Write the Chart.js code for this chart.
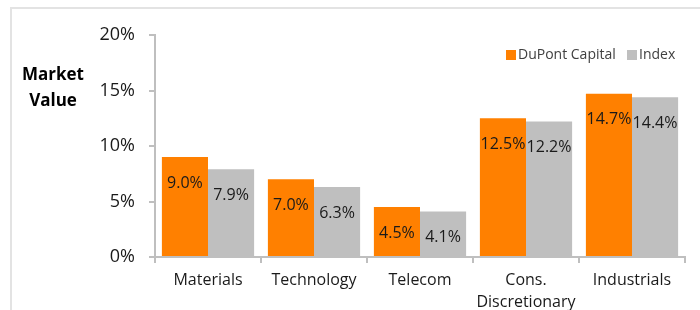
<!DOCTYPE html>
<html>
<head>
<meta charset="utf-8">
<script src="https://cdn.jsdelivr.net/npm/chart.js@4.4.0/dist/chart.umd.min.js"></script>
<style>
  html, body { margin: 0; padding: 0; background: #fff; }
  #wrap { position: relative; width: 700px; height: 310px; overflow: hidden; }
  #frame { position: absolute; left: 10px; top: 7px; width: 800px; height: 400px;
           border-top: 2px solid #e3e3e3; border-left: 2px solid #e3e3e3; }
  canvas { position: absolute; left: 0; top: 0; }
</style>
</head>
<body>
<div id="wrap">
  <div id="frame"></div>
  <canvas id="chart" width="700" height="310"></canvas>
</div>
<script>
const categories = ["Materials", "Technology", "Telecom", ["Cons.", "Discretionary"], "Industrials"];
const dupontValues = [9.0, 7.0, 4.5, 12.5, 14.7];
const indexValues = [7.9, 6.3, 4.1, 12.2, 14.4];
const seriesNames = ["DuPont Capital", "Index"];
const yTicks = [0, 5, 10, 15, 20];

const FONT = "'Open Sans', sans-serif";
const ORANGE = "#ff8000";
const GREY = "#bfbfbf";

// etiquetas dentro das barras
const barLabels = {
  id: "barLabels",
  afterDatasetsDraw(chart) {
    const ctx = chart.ctx;
    ctx.save();
    ctx.font = "16px " + FONT;
    ctx.fillStyle = "#1a1a1a";
    ctx.textAlign = "center";
    ctx.textBaseline = "middle";
    chart.data.datasets.forEach(function (ds, i) {
      chart.getDatasetMeta(i).data.forEach(function (bar, j) {
        ctx.fillText(ds.data[j].toFixed(1) + "%", bar.x, bar.y + 26);
      });
    });
    ctx.restore();
  },
};

// titulo do eixo e legenda
const extras = {
  id: "extras",
  afterDraw(chart) {
    const ctx = chart.ctx;
    ctx.save();
    ctx.fillStyle = "#000";
    ctx.font = "bold 17px " + FONT;
    ctx.textAlign = "center";
    ctx.textBaseline = "middle";
    ctx.fillText("Market", 53, 75);
    ctx.fillText("Value", 53, 101);

    ctx.font = "14px " + FONT;
    ctx.textAlign = "left";
    ctx.fillStyle = ORANGE;
    ctx.fillRect(506, 50, 10, 10);
    ctx.fillStyle = "#404040";
    ctx.fillText(seriesNames[0], 518, 55);
    ctx.fillStyle = GREY;
    ctx.fillRect(627, 50, 10, 10);
    ctx.fillStyle = "#404040";
    ctx.fillText(seriesNames[1], 639, 55);
    ctx.restore();
  },
};

new Chart(document.getElementById("chart"), {
  type: "bar",
  data: {
    labels: categories,
    datasets: [
      { label: seriesNames[0], data: dupontValues, backgroundColor: ORANGE },
      { label: seriesNames[1], data: indexValues, backgroundColor: GREY },
    ],
  },
  options: {
    responsive: false,
    animation: false,
    datasets: { bar: { categoryPercentage: 0.87, barPercentage: 1.0 } },
    layout: { padding: { left: 0, right: 15, top: 35, bottom: 0 } },
    plugins: { legend: { display: false }, tooltip: { enabled: false } },
    scales: {
      x: {
        afterFit(scale) { scale.height = 53; },
        grid: { display: true, drawOnChartArea: false, tickLength: 6, color: "#bfbfbf", lineWidth: 2 },
        border: { color: "#bfbfbf", width: 2 },
        ticks: {
          color: "#1a1a1a",
          font: { family: FONT, size: 16, lineHeight: 1.35 },
          padding: 7,
          maxRotation: 0,
          autoSkip: false,
        },
      },
      y: {
        min: 0,
        max: 20,
        afterFit(scale) { scale.width = 155; },
        afterBuildTicks(scale) { scale.ticks = yTicks.map(function (v) { return { value: v }; }); },
        grid: { display: true, drawOnChartArea: false, tickLength: 6, color: "#bfbfbf", lineWidth: 2 },
        border: { color: "#bfbfbf", width: 2 },
        ticks: {
          color: "#1a1a1a",
          font: { family: FONT, size: 18 },
          padding: 14,
          callback: function (v) { return v + "%"; },
        },
      },
    },
  },
  plugins: [barLabels, extras],
});
</script>
</body>
</html>
